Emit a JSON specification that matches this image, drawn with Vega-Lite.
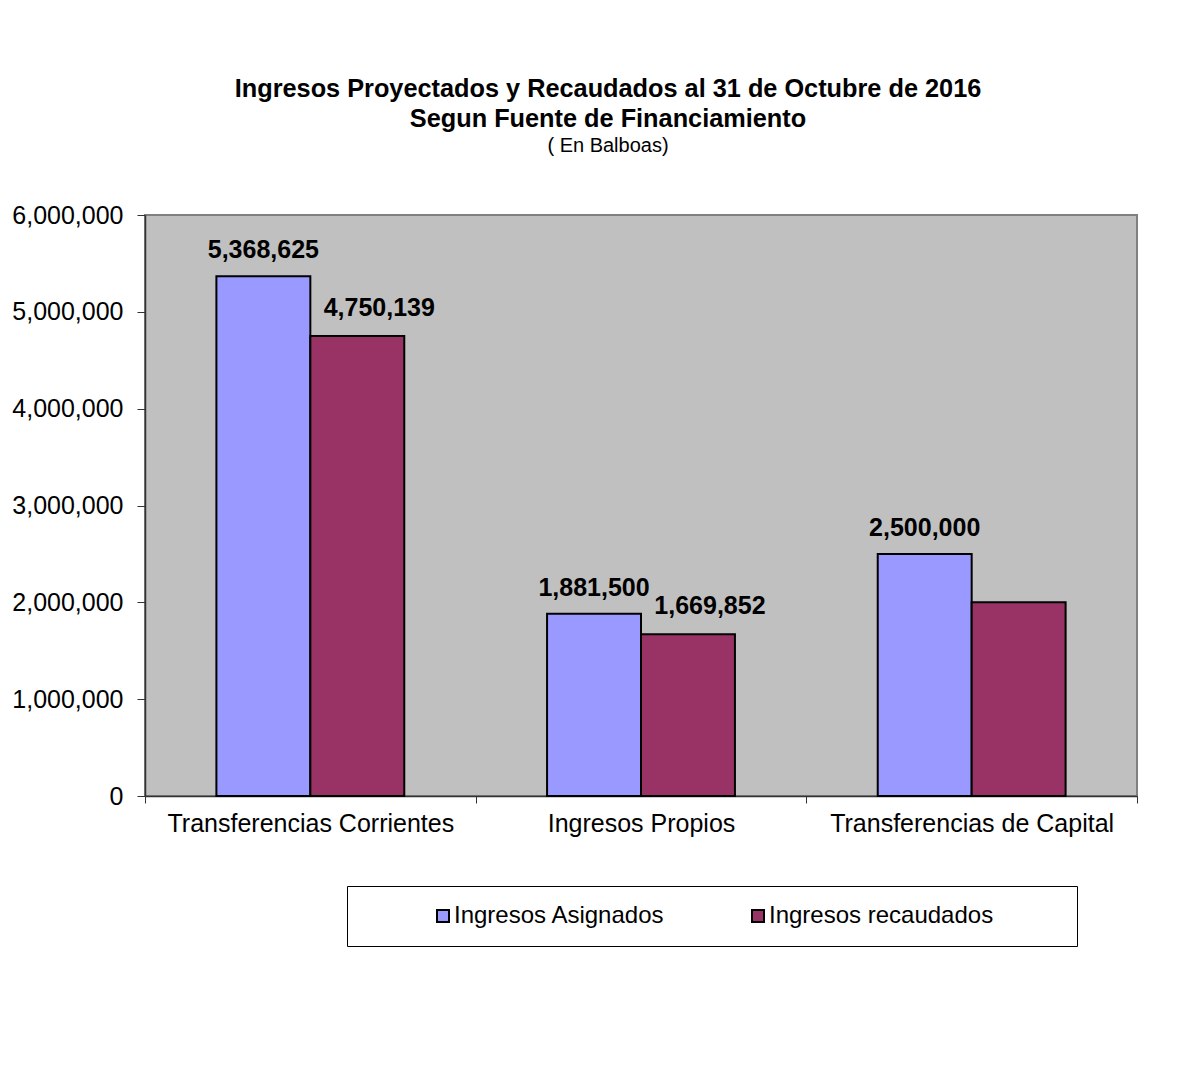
{
  "$schema": "https://vega.github.io/schema/vega-lite/v6.json",
  "width": 992,
  "height": 581,
  "autosize": {"type": "none"},
  "padding": {"left": 145, "top": 215, "right": 49, "bottom": 289},
  "background": "white",
  "config": {
    "font": "Liberation Sans",
    "view": {"fill": "#C0C0C0", "stroke": "#808080", "strokeWidth": 2}
  },
  "title": {
    "text": ["Ingresos Proyectados y Recaudados al 31 de Octubre de 2016", "Segun Fuente de Financiamiento"],
    "subtitle": "( En Balboas)",
    "font": "Liberation Sans",
    "fontSize": 25.3,
    "fontWeight": "bold",
    "lineHeight": 30,
    "color": "black",
    "subtitleFont": "Liberation Sans",
    "subtitleFontSize": 20,
    "subtitleColor": "black",
    "subtitlePadding": 4,
    "anchor": "middle",
    "dx": -33,
    "offset": 47
  },
  "data": {
    "values": [
      {"fuente": "Transferencias Corrientes", "serie": "Ingresos Asignados", "monto": 5368625, "rotulo": "5,368,625"},
      {"fuente": "Transferencias Corrientes", "serie": "Ingresos recaudados", "monto": 4750139, "rotulo": "4,750,139"},
      {"fuente": "Ingresos Propios", "serie": "Ingresos Asignados", "monto": 1881500, "rotulo": "1,881,500"},
      {"fuente": "Ingresos Propios", "serie": "Ingresos recaudados", "monto": 1669852, "rotulo": "1,669,852"},
      {"fuente": "Transferencias de Capital", "serie": "Ingresos Asignados", "monto": 2500000, "rotulo": "2,500,000"},
      {"fuente": "Transferencias de Capital", "serie": "Ingresos recaudados", "monto": 2000000, "rotulo": ""}
    ]
  },
  "encoding": {
    "x": {
      "field": "fuente",
      "type": "nominal",
      "sort": ["Transferencias Corrientes", "Ingresos Propios", "Transferencias de Capital"],
      "scale": {"paddingInner": 0, "paddingOuter": 0},
      "axis": {
        "title": null,
        "labelAngle": 0,
        "labelFontSize": 25,
        "labelColor": "black",
        "labelPadding": 8,
        "labelLimit": 400,
        "tickBand": "extent",
        "tickSize": 7,
        "tickColor": "#333",
        "domainColor": "#333",
        "domainWidth": 1.5
      }
    },
    "xOffset": {
      "field": "serie",
      "type": "nominal",
      "scale": {"paddingInner": 0, "paddingOuter": 0.76}
    },
    "y": {
      "field": "monto",
      "type": "quantitative",
      "scale": {"domain": [0, 6000000], "nice": false},
      "axis": {
        "title": null,
        "values": [0, 1000000, 2000000, 3000000, 4000000, 5000000, 6000000],
        "format": ",d",
        "grid": false,
        "labelFontSize": 25,
        "labelColor": "black",
        "labelPadding": 14,
        "tickSize": 8,
        "tickColor": "#333",
        "domainColor": "#333",
        "domainWidth": 1.5
      }
    }
  },
  "layer": [
    {
      "mark": {"type": "bar", "stroke": "black", "strokeWidth": 2},
      "encoding": {
        "color": {
          "field": "serie",
          "type": "nominal",
          "scale": {"domain": ["Ingresos Asignados", "Ingresos recaudados"], "range": ["#9999FF", "#993366"]},
          "legend": {
            "title": "\u00a0",
            "titleOrient": "right",
            "titlePadding": 66,
            "titleFontSize": 12,
            "orient": "none",
            "legendX": 202,
            "legendY": 671,
            "direction": "horizontal",
            "fillColor": "white",
            "strokeColor": "black",
            "padding": 18,
            "symbolOffset": 66,
            "symbolType": "square",
            "symbolSize": 144,
            "symbolStrokeColor": "black",
            "symbolStrokeWidth": 2,
            "symbolOpacity": 1,
            "labelFontSize": 24,
            "labelColor": "black",
            "labelOffset": -1,
            "columnPadding": 15,
            "labelLimit": 500
          }
        }
      }
    },
    {
      "transform": [{"filter": "datum.serie == 'Ingresos Asignados'"}],
      "mark": {"type": "text", "fontSize": 25, "fontWeight": "bold", "color": "black", "baseline": "alphabetic", "dy": -18},
      "encoding": {"text": {"field": "rotulo"}}
    },
    {
      "transform": [{"filter": "datum.serie == 'Ingresos recaudados'"}],
      "mark": {"type": "text", "fontSize": 25, "fontWeight": "bold", "color": "black", "baseline": "alphabetic", "dy": -20, "dx": 22},
      "encoding": {"text": {"field": "rotulo"}}
    }
  ]
}
